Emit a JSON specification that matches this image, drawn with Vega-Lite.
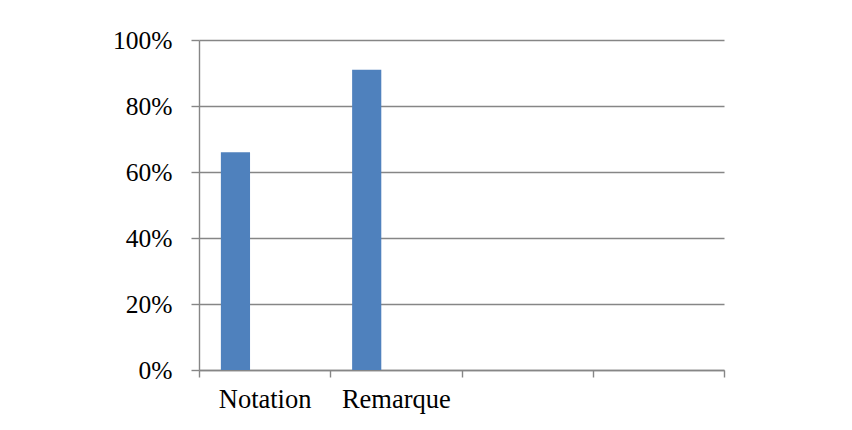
{
  "$schema": "https://vega.github.io/schema/vega-lite/v6.json",
  "autosize": {"type": "none"},
  "padding": {"left": 199, "top": 40, "right": 128, "bottom": 60},
  "width": 525,
  "height": 330,
  "background": "white",
  "config": {
    "view": {"stroke": null},
    "font": "Liberation Serif"
  },
  "data": {
    "values": [
      {"categorie": "Notation", "serie": "Série 1", "taux": 0.66},
      {"categorie": "Remarque", "serie": "Série 1", "taux": 0.91},
      {"categorie": "c3", "serie": "Série 1", "taux": null},
      {"categorie": "c4", "serie": "Série 1", "taux": null}
    ]
  },
  "mark": {"type": "bar", "color": "#4F81BD"},
  "encoding": {
    "x": {
      "field": "categorie",
      "type": "nominal",
      "sort": ["Notation", "Remarque", "c3", "c4"],
      "scale": {"domain": ["Notation", "Remarque", "c3", "c4"], "paddingInner": 0, "paddingOuter": 0},
      "axis": {
        "title": null,
        "labelAngle": 0,
        "labelExpr": "indexof(['Notation','Remarque'], datum.value) >= 0 ? datum.value : ''",
        "tickBand": "extent",
        "tickSize": 7,
        "tickColor": "#868686",
        "tickWidth": 1.4,
        "domainColor": "#868686",
        "domainWidth": 1.4,
        "labelFont": "Liberation Serif",
        "labelFontSize": 26.5,
        "labelColor": "black",
        "labelPadding": 9,
        "grid": false
      }
    },
    "xOffset": {
      "field": "serie",
      "type": "nominal",
      "scale": {"domain": ["Série 1", "Série 2", "Série 3"], "paddingInner": 0, "paddingOuter": 0.75}
    },
    "y": {
      "field": "taux",
      "type": "quantitative",
      "scale": {"domain": [0, 1], "nice": false},
      "axis": {
        "title": null,
        "values": [0, 0.2, 0.4, 0.6, 0.8, 1],
        "format": ".0%",
        "grid": true,
        "gridColor": "#868686",
        "gridWidth": 1.4,
        "tickSize": 8,
        "tickColor": "#868686",
        "tickWidth": 1.4,
        "domainColor": "#868686",
        "domainWidth": 1.4,
        "labelFont": "Liberation Serif",
        "labelFontSize": 25.5,
        "labelColor": "black",
        "labelPadding": 19
      }
    }
  }
}
